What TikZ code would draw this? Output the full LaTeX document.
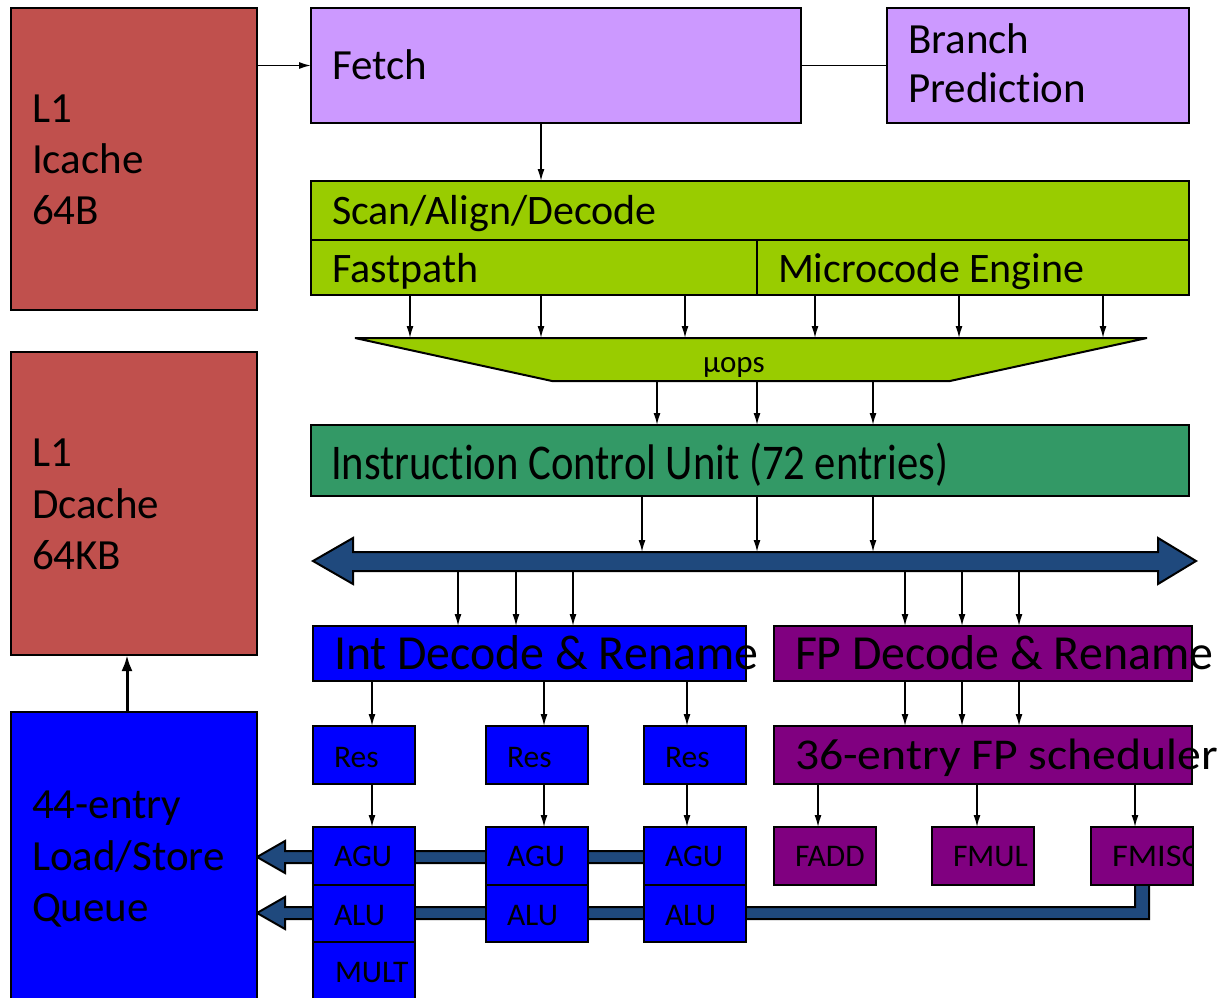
\documentclass[tikz,border=0pt]{standalone}
\usepackage{fontspec}
\setmainfont{Carlito}[Ligatures=NoCommon]
\usepackage{graphicx}
\usetikzlibrary{arrows.meta}
\definecolor{cRed}{HTML}{C0504D}
\definecolor{cLav}{HTML}{CC99FF}
\definecolor{cGrn}{HTML}{99CC00}
\definecolor{cTeal}{HTML}{339966}
\definecolor{cBlue}{HTML}{0000FF}
\definecolor{cPur}{HTML}{800080}
\definecolor{cBus}{HTML}{1F497D}
\tikzset{
  box/.style={draw=black,line width=2pt,inner sep=0pt,outer sep=0pt},
  txt/.style={anchor=base west,inner sep=0pt,outer sep=0pt,text=black},
  arr/.style={line width=1.5pt,-{Latex[length=12pt,width=7pt]}},
  thickarr/.style={line width=3pt,-{Latex[length=16pt,width=11pt]}},
  busshape/.style={draw=black,line width=2pt,fill=cBus,line join=miter},
}
\newcommand\bx[6]{\node[box,fill=#6,minimum width={(#4)-(#2)},minimum height={(#5)-(#3)}] (#1) at ({((#2)+(#4))/2},{((#3)+(#5))/2}) {};}
\newcommand\tx[5]{\node[txt,font=\fontsize{#4}{#4}\selectfont] (#1) at (#2,#3) {#5};}
\newcommand\tw[6]{\node[txt,font=\fontsize{#4}{#4}\selectfont] (#1) at (#2,#3) {\resizebox{#5pt}{\height}{#6}};}
\newcommand\va[3]{\draw[arr] (#3,0 |- #1) -- (#3,0 |- #2);}
\begin{document}
\begin{tikzpicture}[x=1pt,y=-1pt]
\useasboundingbox (0,0) rectangle (1223,998);
\fill[white] (0,0) rectangle (1223,998);
% buses (behind boxes)
\draw[busshape] (313,561) -- (353,538) -- (353,552) -- (1158,552) -- (1158,538) -- (1196,561) -- (1158,584) -- (1158,571) -- (353,571) -- (353,584) -- cycle;
\draw[busshape] (257,857) -- (285,841) -- (285,851) -- (660,851) -- (660,863) -- (285,863) -- (285,873) -- cycle;
\draw[busshape] (257,913) -- (285,897) -- (285,907) -- (1135,907) -- (1135,878) -- (1149,878) -- (1149,919) -- (285,919) -- (285,929) -- cycle;
% boxes
\bx{icache}{11}{8}{257}{310}{cRed}
\bx{dcache}{11}{352}{257}{655}{cRed}
\bx{lsq}{11}{712}{257}{1012}{cBlue}
\bx{fetch}{311}{8}{801}{123}{cLav}
\bx{bp}{887}{8}{1189}{123}{cLav}
\bx{scan}{311}{181}{1189}{240}{cGrn}
\bx{fast}{311}{240}{757}{295}{cGrn}
\bx{micro}{757}{240}{1189}{295}{cGrn}
\bx{icu}{311}{425}{1189}{496}{cTeal}
\bx{intd}{313}{626}{746}{681}{cBlue}
\bx{fpd}{774}{626}{1192}{681}{cPur}
\bx{res1}{313}{726}{415}{784}{cBlue}
\bx{res2}{486}{726}{588}{784}{cBlue}
\bx{res3}{644}{726}{746}{784}{cBlue}
\bx{fps}{774}{726}{1192}{784}{cPur}
\bx{agu1}{313}{827}{415}{885}{cBlue}
\bx{alu1}{313}{885}{415}{942}{cBlue}
\bx{mult}{313}{942}{415}{1012}{cBlue}
\bx{agu2}{486}{827}{588}{885}{cBlue}
\bx{alu2}{486}{885}{588}{942}{cBlue}
\bx{agu3}{644}{827}{746}{885}{cBlue}
\bx{alu3}{644}{885}{746}{942}{cBlue}
\bx{fadd}{774}{827}{876}{885}{cPur}
\bx{fmul}{932}{827}{1034}{885}{cPur}
\bx{fmisc}{1091}{827}{1193}{885}{cPur}
% uops trapezoid
\draw[box,fill=cGrn,line join=bevel] (355,338) -- (1147,338) -- (950,381) -- (552,381) -- cycle;
\coordinate (uT) at (750,338);
\coordinate (uB) at (750,381);
\coordinate (busT) at (750,552);
\coordinate (busB) at (750,571);
% connectors
\draw[arr] (icache.east |- fetch.west) -- (fetch.west);
\draw[line width=1.5pt] (fetch.east) -- (bp.west);
\va{fetch.south}{scan.north}{541}
\va{fast.south}{uT}{410}
\va{fast.south}{uT}{541}
\va{fast.south}{uT}{685}
\va{micro.south}{uT}{815}
\va{micro.south}{uT}{959}
\va{micro.south}{uT}{1103}
\va{uB}{icu.north}{657}
\va{uB}{icu.north}{757}
\va{uB}{icu.north}{873}
\va{icu.south}{busT}{642}
\va{icu.south}{busT}{757}
\va{icu.south}{busT}{873}
\va{busB}{intd.north}{458}
\va{busB}{intd.north}{516}
\va{busB}{intd.north}{573}
\va{busB}{fpd.north}{905}
\va{busB}{fpd.north}{962}
\va{busB}{fpd.north}{1019}
\va{intd.south}{res1.north}{372}
\va{intd.south}{res2.north}{544}
\va{intd.south}{res3.north}{687}
\va{res1.south}{agu1.north}{372}
\va{res2.south}{agu2.north}{544}
\va{res3.south}{agu3.north}{687}
\va{fpd.south}{fps.north}{905}
\va{fpd.south}{fps.north}{962}
\va{fpd.south}{fps.north}{1019}
\va{fps.south}{fadd.north}{818}
\va{fps.south}{fmul.north}{977}
\va{fps.south}{fmisc.north}{1135}
\draw[thickarr] (127,0 |- lsq.north) -- (127,0 |- dcache.south);
% texts
\tx{ti1}{32}{122}{43}{L1}
\tx{ti2}{32}{173}{43}{Icache}
\tx{ti3}{32}{224}{43}{64B}
\tx{td1}{32}{466}{43}{L1}
\tx{td2}{32}{518}{43}{Dcache}
\tx{td3}{32}{569}{43}{64KB}
\tx{tq1}{32}{818}{43}{44-entry}
\tx{tq2}{32}{870}{43}{Load/Store}
\tx{tq3}{32}{921}{43}{Queue}
\tx{tfetch}{332}{80}{43}{Fetch}
\tx{tbp1}{908}{53}{43}{Branch}
\tx{tbp2}{908}{102}{43}{Predic\kern0pt tion}
\tx{tscan}{332}{224}{42}{Scan/Align/Decode}
\tx{tfast}{332}{282}{42}{Fastpath}
\tx{tmicro}{778}{282}{42}{Microcode Engine}
\tx{tuops}{703}{372}{31}{µops}
\tw{ticu}{331}{479}{50}{617}{Instruc\kern0pt tion Control Unit (72 entries)}
\tw{tintd}{334}{669}{49}{424}{Int Decode \& Rename}
\tw{tfpd}{795}{669}{49}{418}{FP Decode \& Rename}
\tw{tfps}{795}{769}{44}{423}{36-entry FP scheduler}
\tx{tr1}{334}{767}{31.5}{Res}
\tx{tr2}{507}{767}{31.5}{Res}
\tx{tr3}{665}{767}{31.5}{Res}
\tx{tag1}{334}{866}{31.5}{AGU}
\tx{tag2}{507}{866}{31.5}{AGU}
\tx{tag3}{665}{866}{31.5}{AGU}
\tx{tal1}{334}{925}{31.5}{ALU}
\tx{tal2}{507}{925}{31.5}{ALU}
\tx{tal3}{665}{925}{31.5}{ALU}
\tx{tmult}{335}{982}{31.5}{MULT}
\tx{tfadd}{795}{866}{31.5}{FADD}
\tx{tfmul}{953}{866}{31.5}{FMUL}
\begin{scope}
\clip (fmisc.south west) rectangle (fmisc.north east);
\tw{tfmisc}{1112}{866}{31.5}{88}{FMISC}
\end{scope}
\end{tikzpicture}
\end{document}
